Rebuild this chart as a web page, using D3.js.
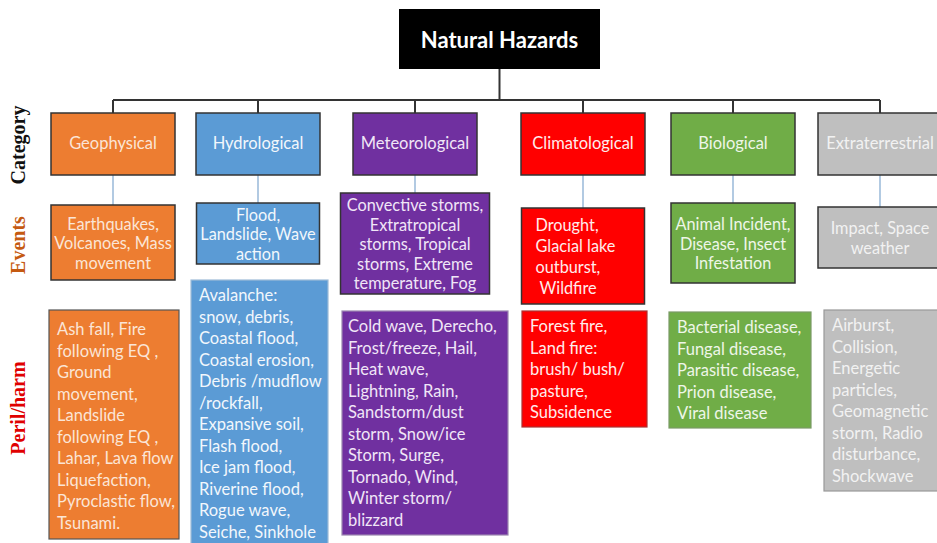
<!DOCTYPE html>
<html>
<head>
<meta charset="utf-8">
<script src="https://cdn.jsdelivr.net/npm/d3@7"></script>
<style>
  body { margin: 0; background: #fff; }
  svg { display: block; }
</style>
</head>
<body>
<svg id="chart" width="937" height="543"></svg>
<script>
// data
const title = "Natural Hazards";
const categories = ["Geophysical", "Hydrological", "Meteorological", "Climatological", "Biological", "Extraterrestrial"];
const events = [
  ["Earthquakes,", "Volcanoes, Mass", "movement"],
  ["Flood,", "Landslide, Wave", "action"],
  ["Convective storms,", "Extratropical", "storms, Tropical", "storms, Extreme", "temperature, Fog"],
  ["Drought,", "Glacial lake", "outburst,", " Wildfire"],
  ["Animal Incident,", "Disease, Insect", "Infestation"],
  ["Impact, Space", "weather"]
];
const perils = [
  ["Ash fall, Fire", "following EQ ,", "Ground", "movement,", "Landslide", "following EQ ,", "Lahar, Lava flow", "Liquefaction,", "Pyroclastic flow,", "Tsunami."],
  ["Avalanche:", "snow, debris,", "Coastal flood,", "Coastal erosion,", "Debris /mudflow", "/rockfall,", "Expansive soil,", "Flash flood,", "Ice jam flood,", "Riverine flood,", "Rogue wave,", "Seiche, Sinkhole"],
  ["Cold wave, Derecho,", "Frost/freeze, Hail,", "Heat wave,", "Lightning, Rain,", "Sandstorm/dust", "storm, Snow/ice", "Storm, Surge,", "Tornado, Wind,", "Winter storm/", "blizzard"],
  ["Forest fire,", "Land fire:", "brush/ bush/", "pasture,", "Subsidence"],
  ["Bacterial disease,", "Fungal disease,", "Parasitic disease,", "Prion disease,", "Viral disease"],
  ["Airburst,", "Collision,", "Energetic", "particles,", "Geomagnetic", "storm, Radio", "disturbance,", "Shockwave"]
];
const rowLabels = ["Category", "Events", "Peril/harm"];

// styles
const fills = ["#ed7d31", "#5b9bd5", "#7030a0", "#ff0000", "#70ad47", "#bfbfbf"];
const textFills = ["#fbe5d6", "#f2f7fc", "#f0e6f7", "#ffecec", "#eef6e8", "#f2f2f2"];
const rowLabelColors = ["#111", "#c55a11", "#e00000"];

// layout
const colCenters = [113, 258, 415, 583, 733, 880];
const evWidth = [124, 123, 149, 123, 124, 124];
const evTop = [205, 203, 193, 208, 203, 207];
const evHeight = [75, 61, 101, 96, 80, 61];
const evLine = [19.5, 19.5, 19.5, 21, 19.5, 19.5];
const pLeft = [49, 191, 342, 522, 669, 824];
const pWidth = [130, 137, 166, 125, 142, 140];
const pTop = [310, 280, 311, 311, 312, 310];
const pHeight = [229, 280, 224, 116, 116, 181];
const pStroke = ["#555", "#9dbbd8", "#9b86b0", "#a33", "#7a9a66", "#999"];

const svg = d3.select("#chart");
const font = "Lato, 'Open Sans', sans-serif";
const x = d3.scaleOrdinal().domain(categories).range(colCenters);

// title box
const titleBox = { x: 399, y: 9, w: 201, h: 60 };
svg.append("rect")
  .attr("x", titleBox.x).attr("y", titleBox.y)
  .attr("width", titleBox.w).attr("height", titleBox.h)
  .attr("fill", "#000");
svg.append("text")
  .attr("x", titleBox.x + titleBox.w / 2).attr("y", titleBox.y + titleBox.h / 2)
  .attr("text-anchor", "middle").attr("dominant-baseline", "central")
  .attr("font-family", font).attr("font-weight", 700).attr("font-size", 22)
  .attr("fill", "#fff").text(title);

// tree connectors
const busY = 100, catTop = 113, catH = 62, catW = 124;
const link = svg.append("g").attr("stroke", "#333").attr("stroke-width", 2).attr("fill", "none");
link.append("line")
  .attr("x1", titleBox.x + titleBox.w / 2).attr("x2", titleBox.x + titleBox.w / 2)
  .attr("y1", titleBox.y + titleBox.h).attr("y2", busY);
link.append("line")
  .attr("x1", x(categories[0])).attr("x2", x(categories[categories.length - 1]))
  .attr("y1", busY).attr("y2", busY);
link.selectAll("line.drop").data(categories).join("line")
  .attr("class", "drop")
  .attr("x1", d => x(d)).attr("x2", d => x(d))
  .attr("y1", busY).attr("y2", catTop);

// category -> events connectors
svg.append("g").selectAll("line").data(categories).join("line")
  .attr("x1", d => x(d)).attr("x2", d => x(d))
  .attr("y1", catTop + catH).attr("y2", (d, i) => evTop[i])
  .attr("stroke", "#7fa7cf").attr("stroke-width", 1.2);

// category boxes
const cat = svg.append("g").selectAll("g").data(categories).join("g");
cat.append("rect")
  .attr("x", d => x(d) - catW / 2).attr("y", catTop)
  .attr("width", catW).attr("height", catH)
  .attr("fill", (d, i) => fills[i]).attr("stroke", "#333").attr("stroke-width", 1.5);
cat.append("text")
  .attr("x", d => x(d)).attr("y", catTop + catH / 2 - 1.5)
  .attr("text-anchor", "middle").attr("dominant-baseline", "central")
  .attr("font-family", font).attr("font-size", 16.5)
  .attr("fill", (d, i) => textFills[i]).text(d => d);

// event boxes
const ev = svg.append("g").selectAll("g").data(categories).join("g");
ev.append("rect")
  .attr("x", (d, i) => x(d) - evWidth[i] / 2).attr("y", (d, i) => evTop[i])
  .attr("width", (d, i) => evWidth[i]).attr("height", (d, i) => evHeight[i])
  .attr("fill", (d, i) => fills[i]).attr("stroke", "#333").attr("stroke-width", 1.5);
ev.each(function (d, i) {
  const lines = events[i];
  const left = i === 3;
  const cy = evTop[i] + evHeight[i] / 2;
  const y0 = cy - (lines.length - 1) * evLine[i] / 2;
  d3.select(this).selectAll("text").data(lines).join("text")
    .attr("x", left ? x(d) - evWidth[i] / 2 + 14 : x(d))
    .attr("y", (l, j) => y0 + j * evLine[i])
    .attr("text-anchor", left ? "start" : "middle").attr("dominant-baseline", "central")
    .attr("font-family", font).attr("font-size", 16.3)
    .attr("xml:space", "preserve")
    .attr("fill", textFills[i]).text(l => l);
});

// peril boxes
const pLine = 21.5;
const per = svg.append("g").selectAll("g").data(categories).join("g");
per.append("rect")
  .attr("x", (d, i) => pLeft[i]).attr("y", (d, i) => pTop[i])
  .attr("width", (d, i) => pWidth[i]).attr("height", (d, i) => pHeight[i])
  .attr("fill", (d, i) => fills[i]).attr("stroke", (d, i) => pStroke[i]).attr("stroke-width", 1.2);
per.each(function (d, i) {
  const first = pTop[i] + (i === 0 ? 19 : 15);
  d3.select(this).selectAll("text").data(perils[i]).join("text")
    .attr("x", pLeft[i] + (i === 2 ? 6 : 8))
    .attr("y", (l, j) => first + j * pLine)
    .attr("dominant-baseline", "central")
    .attr("font-family", font).attr("font-size", 16.5)
    .attr("fill", textFills[i]).text(l => l);
});

// row labels
const labelY = [145, 245, 408];
svg.append("g").selectAll("text").data(rowLabels).join("text")
  .attr("transform", (d, i) => `translate(18,${labelY[i]}) rotate(-90)`)
  .attr("text-anchor", "middle").attr("dominant-baseline", "central")
  .attr("font-family", "'Liberation Serif', 'Times New Roman', serif")
  .attr("font-weight", 700).attr("font-size", 20)
  .attr("fill", (d, i) => rowLabelColors[i]).text(d => d);
</script>
</body>
</html>
